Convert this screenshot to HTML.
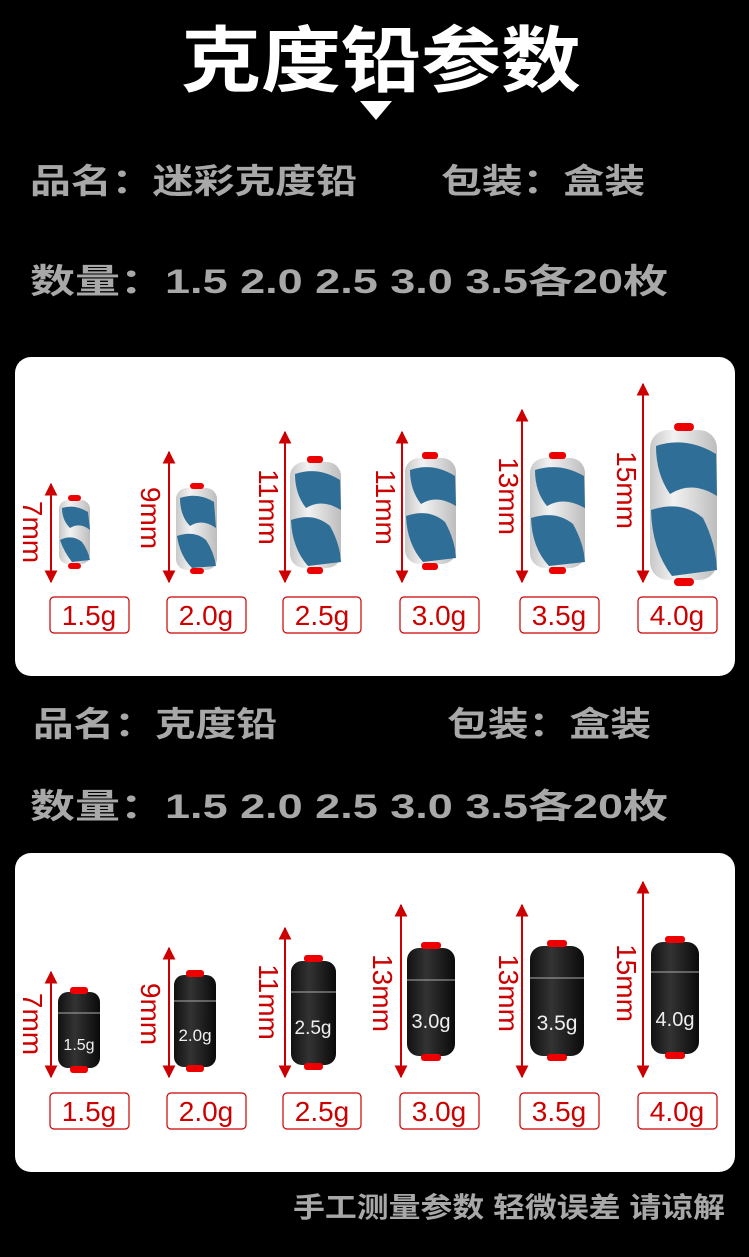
<!DOCTYPE html>
<html><head><meta charset="utf-8"><style>
html,body{margin:0;padding:0;background:#000;}
svg{display:block}
text{font-family:"Liberation Sans","Noto Sans CJK SC",sans-serif;}
</style></head><body>
<svg width="749" height="1257" viewBox="0 0 749 1257" xmlns="http://www.w3.org/2000/svg">
<defs>
<linearGradient id="cam" x1="0" x2="1"><stop offset="0" stop-color="#c8c8c8"/><stop offset="0.35" stop-color="#f2f2f2"/><stop offset="1" stop-color="#bdbdbd"/></linearGradient>
<linearGradient id="blk" x1="0" x2="1"><stop offset="0" stop-color="#111"/><stop offset="0.4" stop-color="#333"/><stop offset="1" stop-color="#0a0a0a"/></linearGradient>
<marker id="ah" viewBox="0 0 10 10" refX="9" refY="5" markerWidth="13" markerHeight="13" orient="auto-start-reverse" markerUnits="userSpaceOnUse"><path d="M0,0 L10,5 L0,10 Z" fill="#c00"/></marker>
</defs>
<rect width="749" height="1257" fill="#000"/>
<text x="381" y="86" font-size="72" font-weight="bold" fill="#fff" text-anchor="middle" textLength="400" lengthAdjust="spacingAndGlyphs">克度铅参数</text>
<path d="M360,101 L392,101 L376,120 Z" fill="#fff"/>
<g fill="#a8a8a8" font-size="34" font-weight="bold">
<text x="30" y="193" textLength="327" lengthAdjust="spacingAndGlyphs">品名：迷彩克度铅</text>
<text x="441" y="193" textLength="204" lengthAdjust="spacingAndGlyphs">包装：盒装</text>
<text x="30" y="293" textLength="638" lengthAdjust="spacingAndGlyphs">数量：1.5 2.0 2.5 3.0 3.5各20枚</text>
<text x="33" y="736" textLength="244" lengthAdjust="spacingAndGlyphs">品名：克度铅</text>
<text x="447" y="736" textLength="204" lengthAdjust="spacingAndGlyphs">包装：盒装</text>
<text x="30" y="818" textLength="638" lengthAdjust="spacingAndGlyphs">数量：1.5 2.0 2.5 3.0 3.5各20枚</text>
</g>
<text x="293" y="1217" font-size="28" font-weight="bold" fill="#a8a8a8" textLength="432" lengthAdjust="spacingAndGlyphs">手工测量参数 轻微误差 请谅解</text>
<rect x="15" y="357" width="720" height="319" rx="16" fill="#fff"/>
<rect x="15" y="853" width="720" height="319" rx="16" fill="#fff"/>
<g stroke="#c00" stroke-width="2">
<line x1="51" y1="484" x2="51" y2="582" marker-start="url(#ah)" marker-end="url(#ah)"/>
<line x1="169" y1="452" x2="169" y2="582" marker-start="url(#ah)" marker-end="url(#ah)"/>
<line x1="285" y1="432" x2="285" y2="582" marker-start="url(#ah)" marker-end="url(#ah)"/>
<line x1="402" y1="432" x2="402" y2="582" marker-start="url(#ah)" marker-end="url(#ah)"/>
<line x1="522" y1="410" x2="522" y2="582" marker-start="url(#ah)" marker-end="url(#ah)"/>
<line x1="643" y1="384" x2="643" y2="582" marker-start="url(#ah)" marker-end="url(#ah)"/>
</g>
<g fill="#c00" font-size="28" text-anchor="middle">
<text transform="translate(23,532) rotate(90)">7mm</text>
<text transform="translate(141,518) rotate(90)">9mm</text>
<text transform="translate(259,507) rotate(90)">11mm</text>
<text transform="translate(376,507) rotate(90)">11mm</text>
<text transform="translate(499,496) rotate(90)">13mm</text>
<text transform="translate(617,490) rotate(90)">15mm</text>
</g>
<g>
<rect x="59" y="500" width="31" height="64" rx="9" fill="url(#cam)"/>
<path d="M62,508 Q75,504 88,512 L90,530 Q80,522 70,528 Q62,520 62,508Z M60,540 Q72,534 82,542 Q88,550 90,560 L72,562 Q64,552 60,540Z" fill="#2f6e96"/>
<rect x="68" y="495" width="13" height="6" rx="3" fill="#e00"/><rect x="68" y="563" width="13" height="6" rx="3" fill="#e00"/>
<rect x="176" y="488" width="41" height="82" rx="11" fill="url(#cam)"/>
<path d="M180,498 Q198,492 214,502 L216,528 Q202,518 190,526 Q180,516 180,498Z M177,536 Q194,530 206,540 Q214,552 216,566 L192,568 Q180,556 177,536Z" fill="#2f6e96"/>
<rect x="190" y="483" width="14" height="6" rx="3" fill="#e00"/><rect x="190" y="568" width="14" height="6" rx="3" fill="#e00"/>
<rect x="290" y="462" width="51" height="106" rx="14" fill="url(#cam)"/>
<path d="M295,474 Q318,466 340,480 L341,510 Q322,498 306,508 Q295,494 295,474Z M291,520 Q314,512 330,526 Q340,544 341,562 L308,566 Q292,548 291,520Z" fill="#2f6e96"/>
<rect x="307" y="456" width="16" height="7" rx="3" fill="#e00"/><rect x="307" y="567" width="16" height="7" rx="3" fill="#e00"/>
<rect x="405" y="458" width="51" height="106" rx="14" fill="url(#cam)"/>
<path d="M410,470 Q433,462 455,476 L456,506 Q437,494 421,504 Q410,490 410,470Z M406,516 Q429,508 445,522 Q455,540 456,558 L423,562 Q407,544 406,516Z" fill="#2f6e96"/>
<rect x="422" y="452" width="16" height="7" rx="3" fill="#e00"/><rect x="422" y="563" width="16" height="7" rx="3" fill="#e00"/>
<rect x="530" y="458" width="55" height="110" rx="15" fill="url(#cam)"/>
<path d="M535,470 Q560,462 584,476 L585,508 Q564,496 547,506 Q535,492 535,470Z M531,518 Q556,510 573,524 Q584,544 585,562 L549,566 Q532,548 531,518Z" fill="#2f6e96"/>
<rect x="549" y="452" width="17" height="7" rx="3" fill="#e00"/><rect x="549" y="567" width="17" height="7" rx="3" fill="#e00"/>
<rect x="650" y="430" width="67" height="150" rx="18" fill="url(#cam)"/>
<path d="M656,446 Q686,436 716,454 L717,496 Q692,480 670,494 Q656,474 656,446Z M651,510 Q682,500 703,518 Q716,544 717,570 L672,576 Q652,550 651,510Z" fill="#2f6e96"/>
<rect x="674" y="423" width="20" height="8" rx="4" fill="#e00"/><rect x="674" y="578" width="20" height="8" rx="4" fill="#e00"/>
</g>
<g stroke="#c00" stroke-width="2">
<line x1="51" y1="972" x2="51" y2="1077" marker-start="url(#ah)" marker-end="url(#ah)"/>
<line x1="169" y1="948" x2="169" y2="1077" marker-start="url(#ah)" marker-end="url(#ah)"/>
<line x1="285" y1="928" x2="285" y2="1077" marker-start="url(#ah)" marker-end="url(#ah)"/>
<line x1="401" y1="905" x2="401" y2="1077" marker-start="url(#ah)" marker-end="url(#ah)"/>
<line x1="522" y1="905" x2="522" y2="1077" marker-start="url(#ah)" marker-end="url(#ah)"/>
<line x1="643" y1="882" x2="643" y2="1077" marker-start="url(#ah)" marker-end="url(#ah)"/>
</g>
<g fill="#c00" font-size="28" text-anchor="middle">
<text transform="translate(23,1024) rotate(90)">7mm</text>
<text transform="translate(141,1014) rotate(90)">9mm</text>
<text transform="translate(259,1002) rotate(90)">11mm</text>
<text transform="translate(373,993) rotate(90)">13mm</text>
<text transform="translate(499,993) rotate(90)">13mm</text>
<text transform="translate(617,983) rotate(90)">15mm</text>
</g>
<g>
<rect x="58" y="992" width="42" height="76" rx="10" fill="url(#blk)"/>
<rect x="70" y="987" width="18" height="7" rx="3" fill="#e00"/><rect x="70" y="1066" width="18" height="7" rx="3" fill="#e00"/>
<line x1="58" y1="1013" x2="100" y2="1013" stroke="#aaa"/>
<text x="79" y="1050" font-size="16" fill="#eee" text-anchor="middle">1.5g</text>
<rect x="174" y="975" width="42" height="92" rx="10" fill="url(#blk)"/>
<rect x="186" y="970" width="18" height="7" rx="3" fill="#e00"/><rect x="186" y="1065" width="18" height="7" rx="3" fill="#e00"/>
<line x1="174" y1="1001" x2="216" y2="1001" stroke="#aaa"/>
<text x="195" y="1041" font-size="17" fill="#eee" text-anchor="middle">2.0g</text>
<rect x="291" y="961" width="45" height="104" rx="11" fill="url(#blk)"/>
<rect x="304" y="955" width="19" height="7" rx="3" fill="#e00"/><rect x="304" y="1063" width="19" height="7" rx="3" fill="#e00"/>
<line x1="291" y1="992" x2="336" y2="992" stroke="#aaa"/>
<text x="313" y="1034" font-size="19" fill="#eee" text-anchor="middle">2.5g</text>
<rect x="407" y="948" width="48" height="108" rx="12" fill="url(#blk)"/>
<rect x="421" y="942" width="20" height="7" rx="3" fill="#e00"/><rect x="421" y="1054" width="20" height="7" rx="3" fill="#e00"/>
<line x1="407" y1="980" x2="455" y2="980" stroke="#aaa"/>
<text x="431" y="1028" font-size="20" fill="#eee" text-anchor="middle">3.0g</text>
<rect x="530" y="946" width="54" height="110" rx="13" fill="url(#blk)"/>
<rect x="547" y="940" width="20" height="7" rx="3" fill="#e00"/><rect x="547" y="1054" width="20" height="7" rx="3" fill="#e00"/>
<line x1="530" y1="978" x2="584" y2="978" stroke="#aaa"/>
<text x="557" y="1030" font-size="21" fill="#eee" text-anchor="middle">3.5g</text>
<rect x="651" y="942" width="48" height="112" rx="12" fill="url(#blk)"/>
<rect x="665" y="936" width="20" height="7" rx="3" fill="#e00"/><rect x="665" y="1052" width="20" height="7" rx="3" fill="#e00"/>
<line x1="651" y1="972" x2="699" y2="972" stroke="#aaa"/>
<text x="675" y="1026" font-size="20" fill="#eee" text-anchor="middle">4.0g</text>
</g>
<g fill="none" stroke="#c00" stroke-width="1.2">
<rect x="50" y="597" width="79" height="36" rx="4"/><rect x="167" y="597" width="79" height="36" rx="4"/><rect x="283" y="597" width="78" height="36" rx="4"/><rect x="400" y="597" width="79" height="36" rx="4"/><rect x="520" y="597" width="79" height="36" rx="4"/><rect x="638" y="597" width="79" height="36" rx="4"/>
<rect x="50" y="1093" width="79" height="36" rx="4"/><rect x="167" y="1093" width="79" height="36" rx="4"/><rect x="283" y="1093" width="78" height="36" rx="4"/><rect x="400" y="1093" width="79" height="36" rx="4"/><rect x="520" y="1093" width="79" height="36" rx="4"/><rect x="638" y="1093" width="79" height="36" rx="4"/>
</g>
<g fill="#c00" font-size="28" text-anchor="middle">
<text x="89" y="625">1.5g</text><text x="206" y="625">2.0g</text><text x="322" y="625">2.5g</text><text x="439" y="625">3.0g</text><text x="559" y="625">3.5g</text><text x="677" y="625">4.0g</text>
<text x="89" y="1121">1.5g</text><text x="206" y="1121">2.0g</text><text x="322" y="1121">2.5g</text><text x="439" y="1121">3.0g</text><text x="559" y="1121">3.5g</text><text x="677" y="1121">4.0g</text>
</g>
</svg>
</body></html>
